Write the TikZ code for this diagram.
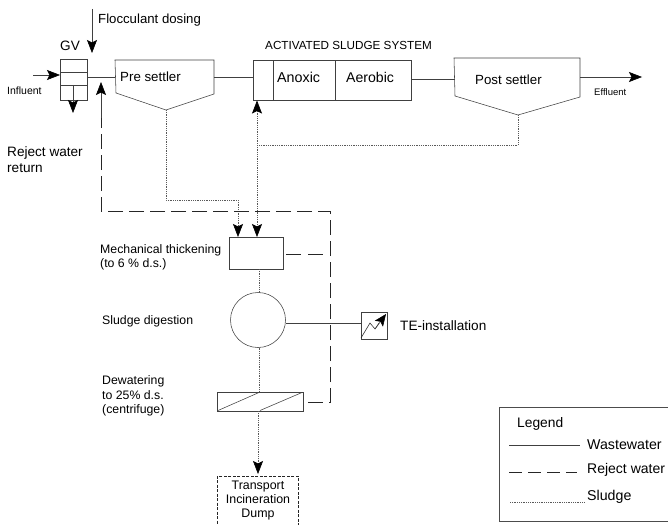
\documentclass[tikz,border=0pt]{standalone}
\usepackage{fontspec}
\setmainfont{Liberation Sans}
\usetikzlibrary{arrows.meta}
\tikzset{
  ww/.style={draw=black!75,line width=0.55pt},
  rej/.style={draw=black!85,line width=0.7pt,dash pattern=on 15pt off 6pt},
  slu/.style={draw=black!65,line width=0.6pt,dash pattern=on 1pt off 0.8pt},
  tip/.style={-{Stealth[length=13pt,width=10pt,inset=2.5pt,color=black]}},
  tiptwo/.style={{Stealth[length=13pt,width=10pt,inset=2.5pt,color=black]}-{Stealth[length=13pt,width=10pt,inset=2.5pt,color=black]}},
  boxn/.style={draw=black!75,line width=0.55pt,inner sep=0pt,outer sep=0pt,anchor=north west},
  lab/.style={inner sep=0pt,anchor=west,align=left,font=\fontsize{13.6}{15.5}\selectfont},
  labs/.style={inner sep=0pt,anchor=west,align=left,font=\fontsize{12.3}{14.2}\selectfont},
  labt/.style={inner sep=0pt,anchor=west,font=\fontsize{10}{12}\selectfont},
}
\begin{document}
\begin{tikzpicture}[x=1pt,y=-1pt]
\useasboundingbox (0,0) rectangle (668,524);
% GV
\node[boxn,minimum width=27pt,minimum height=41pt] (gv) at (60,59) {};
\draw[ww] (60,72) -- (87,72) (60,85) -- (87,85);
\coordinate (gvin) at (33,75);
\coordinate (gvinend) at (60,75);
\coordinate (gvout) at (73,85);
\coordinate (gvoutend) at (73,113);
\coordinate (flstart) at (92,9);
\coordinate (flend) at (92,53);
\draw[ww,tip] (gvin) -- (gvinend);
\draw[ww,tip] (gvout) -- (gvoutend);
\draw[ww,tip] (flstart) -- (flend);
\node[lab,font=\fontsize{13.2}{15}\selectfont] (fl) at (98,20) {Flocculant dosing};
\node[lab] (gvl) at (60,46) {GV};
\node[labt,font=\fontsize{10.5}{12}\selectfont] (inf) at (7,91) {Influent};
\node[lab] (rw) at (7,153) {Reject water};
\node[lab] (rr) at (7,168) {return};
% Pre settler
\coordinate (ps1) at (115,60);
\coordinate (ps2) at (214,60);
\coordinate (ps3) at (214,94);
\coordinate (pstip) at (166,110);
\coordinate (ps4) at (116,93);
\draw[ww] (ps1) -- (ps2) -- (ps3) -- (pstip) -- (ps4) -- cycle;
\node[lab,font=\fontsize{13.3}{15}\selectfont] (psl) at (120,77) {Pre settler};
% Activated sludge
\node[boxn,minimum width=20pt,minimum height=40pt] (sel) at (253,60) {};
\node[boxn,minimum width=62pt,minimum height=40pt] (ano) at (273,60) {};
\node[boxn,minimum width=76pt,minimum height=40pt] (aer) at (335,60) {};
\node[lab,font=\fontsize{14.3}{15}\selectfont] (anl) at (277,77) {Anoxic};
\node[lab,font=\fontsize{14.1}{15}\selectfont] (ael) at (346,77) {Aerobic};
\node[inner sep=0pt,anchor=west,font=\fontsize{11.7}{13}\selectfont] (asl) at (265,45) {ACTIVATED SLUDGE SYSTEM};
% Post settler
\coordinate (po1) at (454,58);
\coordinate (po2) at (580,58);
\coordinate (po3) at (580,97);
\coordinate (potip) at (518,115);
\coordinate (po4) at (455,96);
\draw[ww] (po1) -- (po2) -- (po3) -- (potip) -- (po4) -- cycle;
\node[lab,font=\fontsize{13.3}{15}\selectfont] (pol) at (475,80) {Post settler};
\node[labt,font=\fontsize{9.5}{12}\selectfont] (eff) at (594,92) {Effluent};
\coordinate (effs) at (580,77);
\coordinate (effe) at (642,77);
\draw[ww,tip] (effs) -- (effe);
% wastewater connectors
\draw[ww] (87,77) -- (115,77);
\draw[ww] (214,77) -- (253,77);
\draw[ww] (411,79) -- (454.5,79);
% Lower units
\node[boxn,minimum width=54pt,minimum height=32pt] (mech) at (229,237) {};
\node[draw=black!75,line width=0.55pt,circle,minimum size=55pt,inner sep=0pt,outer sep=0pt] (dig) at (258,320) {};
\node[boxn,minimum width=86pt,minimum height=19pt] (dew) at (217,392) {};
\draw[ww] (218,410.5) -- (259,392.5) (260,410.5) -- (302,392.5);
\node[boxn,minimum width=26pt,minimum height=27pt] (te) at (361,312) {};
\draw[ww] (dig.east |- 0,323) -- (te.west |- 0,323);
\draw[black!85,line width=0.55pt] (361,338) -- (370,323) -- (375,329) -- (379,323);
\draw[ww,-{Stealth[length=12pt,width=10pt,inset=2.5pt,color=black]}] (375,329) -- (386,314);
\node[boxn,draw=black!85,line width=0.8pt,dash pattern=on 3pt off 1.5pt,minimum width=81pt,minimum height=50pt] (tr) at (217,476) {};
\node[inner sep=0pt,align=center,font=\fontsize{12.4}{14}\selectfont] (trl) at (258,501) {Transport\\Incineration\\Dump};
\node[labs] (mt) at (100,257) {Mechanical thickening\\(to 6 \% d.s.)};
\node[labs] (sd) at (102,321) {Sludge digestion};
\node[labs] (dw) at (102,396) {Dewatering\\to 25\% d.s.\\(centrifuge)};
\node[inner sep=0pt,anchor=west,font=\fontsize{13.6}{15}\selectfont] (tel) at (400,326) {TE-installation};
% Sludge
\coordinate (a1) at (257,145);
\draw[slu,tiptwo] (257,100.5) -- (257,237);
\draw[slu] (potip) -- (518,145) -- (a1);
\draw[slu,tip] (pstip) -- (166,200) -- (238,200) -- (238,237);
\draw[slu] (259,269) -- (259,292.5);
\draw[slu] (259,347.5) -- (259,392);
\draw[slu,tip] (258,411) -- (258,474);
% Reject
\coordinate (r0) at (330,402);
\draw[rej] (308,402) -- (r0) -- (330,211) -- (101,211) -- (101,100);
\draw[ww,tip] (101,118) -- (101,82);
\draw[rej,dash pattern=on 15pt off 7pt] (286,254) -- (330,254);
% Legend
\draw[draw=black!70,line width=0.7pt] (668,407) -- (499,407) -- (499,521) -- (668,521);
\node[lab,font=\fontsize{13.8}{15}\selectfont] (lgl) at (517,424) {Legend};
\node[lab,font=\fontsize{14.2}{15}\selectfont] (lg1) at (587,445) {Wastewater};
\node[lab,font=\fontsize{14}{15}\selectfont] (lg2) at (587,470) {Reject water};
\node[lab,font=\fontsize{14.2}{15}\selectfont] (lg3) at (587,497) {Sludge};
\draw[ww] (509,445) -- (580,445);
\draw[rej,dash pattern=on 13pt off 6pt] (509,472) -- (577,472);
\draw[slu] (510,502) -- (584,502);
\end{tikzpicture}
\end{document}
